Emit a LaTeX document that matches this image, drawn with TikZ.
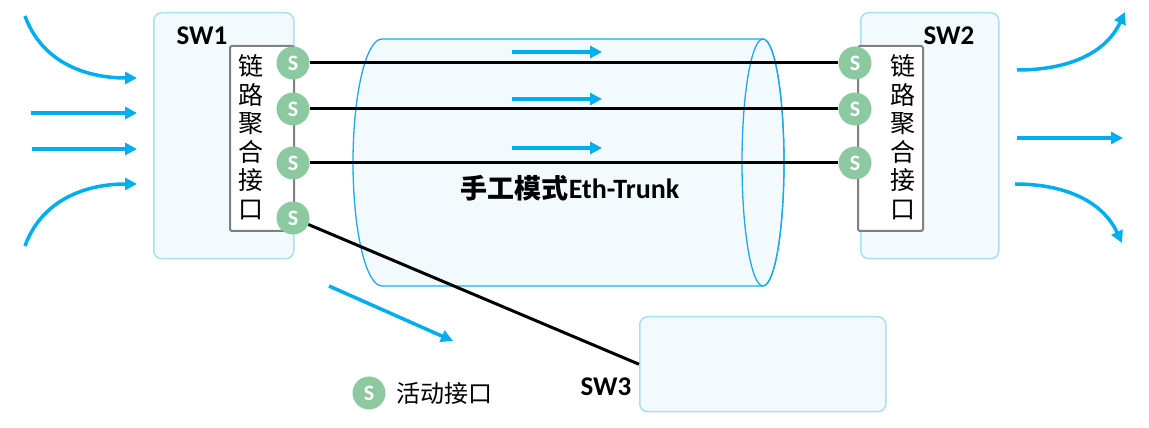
\documentclass[tikz,border=0pt]{standalone}
\usepackage{fontspec}
\setmainfont{Carlito}
\newfontfamily\cjk{Noto Sans CJK SC}
\usepackage{tikz}
\usetikzlibrary{arrows.meta}
\definecolor{flowblue}{RGB}{0,174,239}
\definecolor{tubeline}{RGB}{30,170,230}
\definecolor{boxline}{RGB}{168,222,246}
\definecolor{boxfill}{RGB}{243,250,254}
\definecolor{portgreen}{RGB}{140,201,160}
\definecolor{laggray}{RGB}{128,128,128}
\tikzset{%
  swbox/.style    = {shape=rectangle, rounded corners=8pt, draw=boxline,%
                     line width=1.5pt, fill=boxfill, anchor=north west, inner sep=0pt},%
  swlabel/.style  = {font=\bfseries\fontsize{27}{27}\selectfont, inner sep=0pt},%
  lagbox/.style   = {shape=rectangle, rounded corners=2pt, draw=laggray,%
                     line width=2pt, fill=white, anchor=north west, inner sep=0pt},%
  lagtext/.style  = {font=\cjk\fontsize{25}{28.5}\selectfont, align=center, inner sep=0pt},%
  port/.style     = {circle, fill=portgreen, text=white, inner sep=0pt,%
                     minimum size=33pt, font=\bfseries\fontsize{22}{22}\selectfont},%
  link/.style     = {draw=black, line width=3pt},%
  flow/.style     = {draw=flowblue, line width=3.5pt,%
                     -{Triangle[length=12pt,width=12pt]}},%
  tube/.style     = {draw=tubeline, line width=1.3pt, fill=boxfill}%
}
\begin{document}
\begin{tikzpicture}[x=1pt,y=1pt]
	\useasboundingbox (0,0) rectangle (1149,428);
	\draw[flow] (25,412) to[out=-70,in=180] (137,350);
	\draw[flow] (31,315) -- (137,315);
	\draw[flow] (32,279) -- (137,279);
	\draw[flow] (25,182) to[out=70,in=180] (137,244);
	\draw[flow] (1017,358) to[out=0,in=-115] (1125,416);
	\draw[flow] (1017,290) -- (1123,290);
	\draw[flow] (1015,244) to[out=0,in=115] (1122,185);
	\draw[flow] (329,142) -- (453,87);
	\node[swbox, minimum width=140pt, minimum height=246pt] (sw1) at (153,416) {};
	\node[swbox, minimum width=138pt, minimum height=246pt] (sw2) at (860,416) {};
	\node[swbox, minimum width=246pt, minimum height=95pt] (sw3) at (639,112) {};
	\node[swlabel] (sw1t) at (202,392) {SW1};
	\node[swlabel] (sw2t) at (949,392) {SW2};
	\node[swlabel] (sw3t) at (606,41) {SW3};
	\draw[tube] (382,389) -- (763,389)
		arc[start angle=90, end angle=-90, x radius=21, y radius=123.5]
		-- (382,142)
		arc[start angle=270, end angle=90, x radius=29, y radius=123.5] -- cycle;
	\draw[tube, fill=none] (763,265.5) ellipse[x radius=21, y radius=123.5];
	\node (trunk) at (570,240) {{\cjk\bfseries\fontsize{27}{27}\selectfont 手工模式}%
		{\bfseries\fontsize{28}{28}\selectfont Eth-Trunk}};
	\draw[flow] (512,376) -- (602,376);
	\draw[flow] (512,329) -- (602,329);
	\draw[flow] (512,280) -- (602,280);
	\node[lagbox, minimum width=64pt, minimum height=185pt] (lag1) at (229,383) {};
	\node[lagbox, minimum width=65pt, minimum height=185pt] (lag2) at (857,383) {};
	\node[lagtext] at (251,291) {链\\路\\聚\\合\\接\\口};
	\node[lagtext] at (903,291) {链\\路\\聚\\合\\接\\口};
	\node[port] (p11) at (293,365) {S};
	\node[port] (p12) at (293,319) {S};
	\node[port] (p13) at (293,265) {S};
	\node[port] (p14) at (293,210) {S};
	\node[port] (p21) at (855,365) {S};
	\node[port] (p22) at (855,319) {S};
	\node[port] (p23) at (855,265) {S};
	\draw[link] (p11) -- (p21);
	\draw[link] (p12) -- (p22);
	\draw[link] (p13) -- (p23);
	\draw[link] (p14) -- (sw3.west);
	\node[port] (legend) at (369,35) {S};
	\node[anchor=west, inner sep=0pt, font=\cjk\fontsize{24}{24}\selectfont]
		(legendt) at ([xshift=11pt]legend.east) {活动接口};
\end{tikzpicture}
\end{document}
